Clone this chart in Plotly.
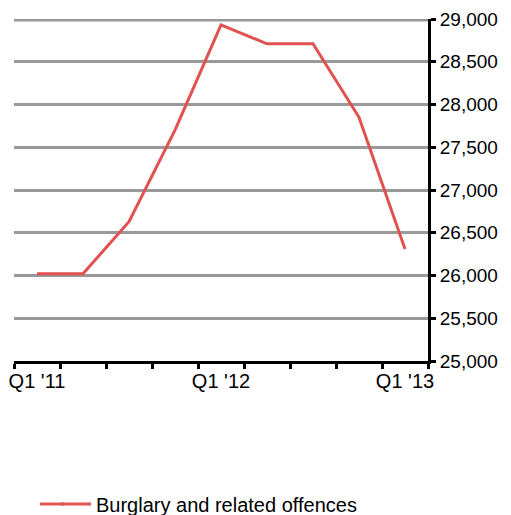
import plotly.graph_objects as go

quarters = ["Q1 '11", "Q2 '11", "Q3 '11", "Q4 '11", "Q1 '12",
            "Q2 '12", "Q3 '12", "Q4 '12", "Q1 '13"]
burglary = [26020, 26020, 26630, 27700, 28930, 28710, 28710, 27850, 26310]
label_quarters = ["Q1 '11", "Q1 '12", "Q1 '13"]
y_ticks = [25000, 25500, 26000, 26500, 27000, 27500, 28000, 28500, 29000]

xpos = list(range(len(quarters)))
label_pos = [quarters.index(q) for q in label_quarters]
boundaries = [i - 0.5 for i in range(len(quarters) + 1)]

font_main = "Liberation Sans, Arial, sans-serif"
red = "#E0514F"
grid = "#999999"

# page body has an 8px margin; figure coords = window coords - 8
OFF = 8
W, H = 511 - OFF, 515 - OFF
L, R, T, B = 14 - OFF, 83, 19 - OFF, 154
pw, ph = W - L - R, H - T - B

def px_x(px):
    return (px - OFF - L) / pw

def px_y(py):
    return (H - B - (py - OFF)) / ph

LEG_Y = 504

fig = go.Figure()
fig.add_trace(go.Scatter(
    x=xpos, y=burglary, mode="lines",
    line=dict(color=red, width=3),
    name="Burglary and related offences",
))

# top gridline at the upper end of the range (half is clipped by plot area)
fig.add_shape(type="line", xref="paper", yref="y", layer="below",
              x0=0, x1=1, y0=y_ticks[-1], y1=y_ticks[-1],
              line=dict(color=grid, width=5))

# extend legend key line to the left to match longer key
fig.add_shape(type="line", xref="paper", yref="paper",
              x0=px_x(40), x1=px_x(64), y0=px_y(LEG_Y), y1=px_y(LEG_Y),
              line=dict(color=red, width=3))

fig.update_layout(
    width=W, height=H,
    margin=dict(l=L, r=R, t=T, b=B, autoexpand=False),
    paper_bgcolor="white", plot_bgcolor="white",
    font=dict(family=font_main, size=19, color="black"),
    showlegend=True,
    legend=dict(x=px_x(56), y=px_y(LEG_Y), xanchor="left", yanchor="middle",
                orientation="h", font=dict(size=20),
                bgcolor="rgba(0,0,0,0)"),
)
fig.update_xaxes(
    range=[-0.5, len(quarters) - 0.5], automargin=False,
    tickmode="array", tickvals=label_pos, ticktext=label_quarters,
    ticks="", showgrid=False, zeroline=False,
    showline=True, linecolor="black", linewidth=3,
    minor=dict(tickmode="array", tickvals=boundaries, ticks="outside",
               ticklen=5, tickwidth=3, tickcolor="black", showgrid=False),
    tickfont=dict(size=20),
)
fig.update_yaxes(
    side="right", range=[25000, 29000], automargin=False,
    tickmode="array", tickvals=y_ticks, tickformat=",",
    ticks="outside", ticklen=5, tickwidth=3, tickcolor="black",
    showline=True, linecolor="black", linewidth=3,
    showgrid=True, gridcolor=grid, gridwidth=3,
    zeroline=False, tickfont=dict(size=19),
)

fig.write_html("out.html")
